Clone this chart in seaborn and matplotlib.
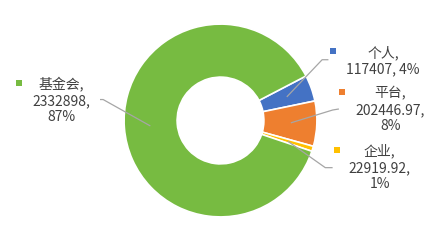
import matplotlib
matplotlib.use("Agg")
import matplotlib.pyplot as plt
import seaborn as sns
import numpy as np

sns.set_theme(style="white")
plt.rcParams['font.family'] = ['Noto Sans CJK SC', 'DejaVu Sans']

categories = ["个人", "平台", "企业", "基金会"]
values = [117407, 202446.97, 22919.92, 2332898]
value_labels = ["117407", "202446.97", "22919.92", "2332898"]
pct_labels = ["4%", "8%", "1%", "87%"]
colors = ["#4472C4", "#EE7F2F", "#FFC000", "#77BB41"]

W, H = 441, 241
fig = plt.figure(figsize=(W / 100, H / 100), dpi=100)
ax = fig.add_axes([0, 0, 1, 1])
cx, cy, R = 220, 120, 92  # pixel layout of the pie
ax.set_xlim(-cx / R, (W - cx) / R)
ax.set_ylim(-(H - cy) / R, cy / R)
ax.set_aspect('equal')
ax.axis('off')

wedges, _ = ax.pie(values, colors=colors, startangle=27.5, counterclock=False,
                   radius=1, wedgeprops=dict(width=0.55, edgecolor='white', linewidth=1.2))

def px(x, y):
    return ((x - cx) / R, (cy - y) / R)

# label layout (pixels): text center, line stub, marker pos
layout = {
    "个人": dict(text=(375, 63), lines=["个人,", "117407, 4%"], stub=((323, 62), (317, 62)), marker=(327, 54)),
    "平台": dict(text=(382, 110), lines=["平台,", "202446.97,", "8%"], stub=((333, 109), (327, 110)), marker=(336, 93)),
    "企业": dict(text=(372, 165), lines=["企业,", "22919.92,", "1%"], stub=((327, 165), (320, 165)), marker=(331, 148)),
    "基金会": dict(text=(68, 101), lines=["基金会,", "2332898,", "87%"], stub=((100, 100), (108, 100)), marker=(28, 84)),
}

for w, cat, val, pct, col in zip(wedges, categories, value_labels, pct_labels, colors):
    L = layout[cat]
    mid = np.deg2rad((w.theta1 + w.theta2) / 2)
    inner = (0.73 * np.cos(mid), 0.73 * np.sin(mid))
    p0 = px(*L["stub"][0])
    p1 = px(*L["stub"][1])
    ax.plot([p0[0], p1[0], inner[0]], [p0[1], p1[1], inner[1]],
            color="#A6A6A6", lw=0.9, solid_capstyle='butt')
    tx, ty = px(*L["text"])
    ax.text(tx, ty, "\n".join(L["lines"]), ha='center', va='center',
            multialignment='center', fontsize=10, color="#404040", linespacing=1.22)
    mx, my = px(*L["marker"])
    ax.plot([mx], [my], marker='s', markersize=4.5, color=col, markeredgewidth=0,
            linestyle='none', clip_on=False)

fig.savefig("out.png", dpi=100)
